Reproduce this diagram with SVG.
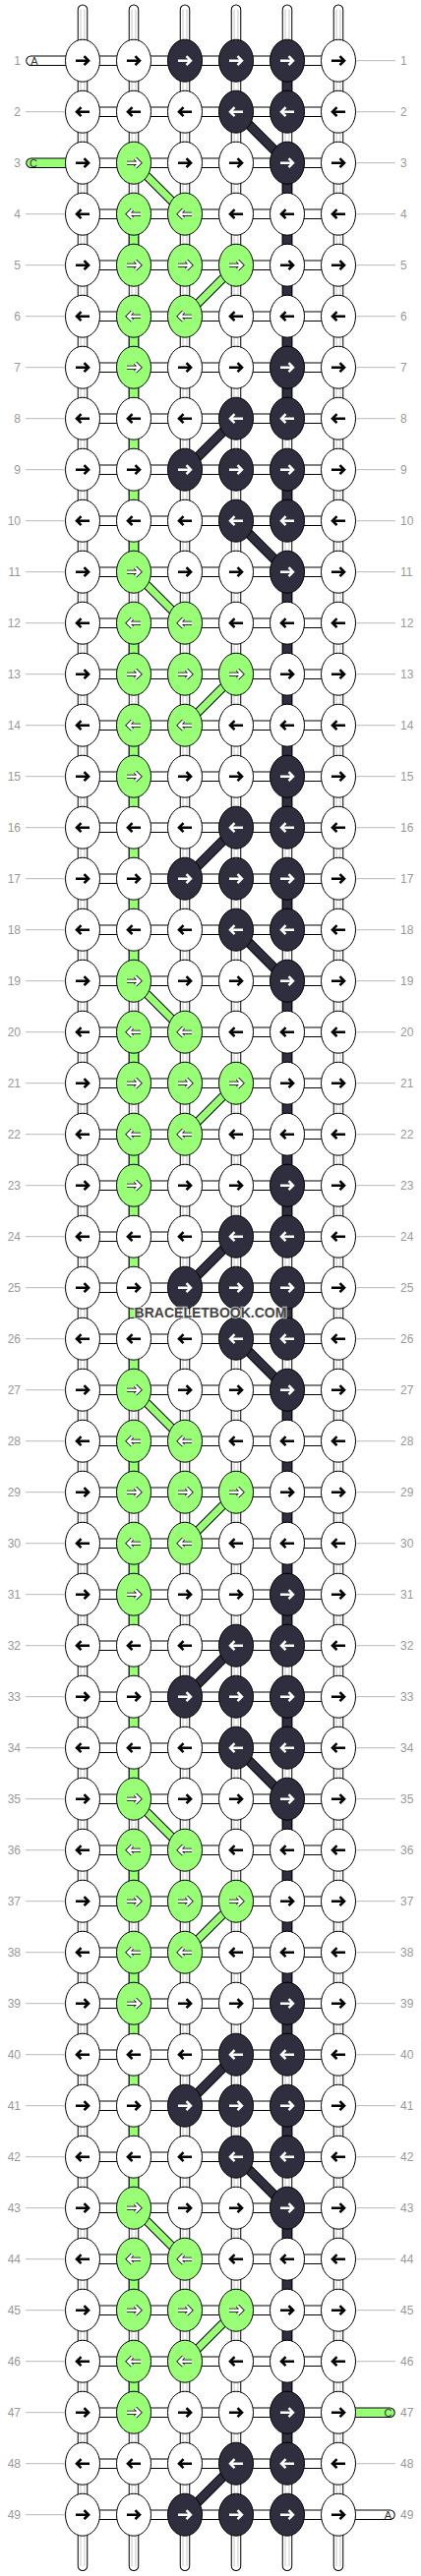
<svg xmlns="http://www.w3.org/2000/svg" xmlns:xlink="http://www.w3.org/1999/xlink" width="428" height="2620" viewBox="0 0 428 2620">
<style>
.t1{fill:none;stroke:#000;stroke-width:10.5;stroke-linecap:round}
.t2{fill:none;stroke:#fff;stroke-width:8.5;stroke-linecap:round}
.t3{fill:none;stroke:#c8c8c8;stroke-width:5}
.t4{fill:none;stroke:#fff;stroke-width:3}
.vb{fill:none;stroke:#000;stroke-width:10.5}
.vg{fill:none;stroke:#99ff77;stroke-width:8.5}
.vd{fill:none;stroke:#2e2e3e;stroke-width:8.5}
.dbg{fill:none;stroke:#000;stroke-width:9}
.dbd{fill:none;stroke:#000;stroke-width:10}
.dg{fill:none;stroke:#99ff77;stroke-width:7}
.dd{fill:none;stroke:#2e2e3e;stroke-width:8}
.hb{fill:none;stroke:#000;stroke-width:10.5}
.hw{fill:none;stroke:#fff;stroke-width:8.5}
.tb{fill:none;stroke:#000;stroke-width:10.5;stroke-linecap:round}
.tw{fill:none;stroke:#fff;stroke-width:8.5;stroke-linecap:round}
.tg{fill:none;stroke:#99ff77;stroke-width:8.5;stroke-linecap:round}
.gl{fill:none;stroke:#bbb;stroke-width:1}
.ew{fill:#fff;stroke:#000;stroke-width:1}
.ed{fill:#2e2e3e;stroke:#000;stroke-width:1}
.eg{fill:#99ff77;stroke:#000;stroke-width:1}
.ak{fill:none;stroke:#000;stroke-width:2.6}
.ao{fill:none;stroke:#000;stroke-width:4}
.aw{fill:none;stroke:#fff;stroke-width:2.4}
.nl{font-family:"Liberation Sans",Arial,sans-serif;font-size:12px;fill:#999}
.tl{font-family:"Liberation Sans",Arial,sans-serif;font-size:11px;fill:#333;text-anchor:middle}
.wm{font-family:"Liberation Sans",Arial,sans-serif;font-size:14px;font-weight:bold;fill:#444;text-anchor:middle;stroke:#fff;stroke-opacity:0.6;stroke-width:2.5;paint-order:stroke}
</style>
<defs>
<path id="vt" d="M84,0V2600M136,0V2600M188,0V2600M240,0V2600M292,0V2600M344,0V2600"/>
<path id="vgp" d="M136,208V260M136,312V572M136,624V676M136,728V988M136,1040V1092M136,1144V1404M136,1456V1508M136,1560V1820M136,1872V1924M136,1976V2236M136,2288V2340M136,2392V2444"/>
<path id="vdp" d="M292,52V104M292,156V416M292,468V520M292,572V832M292,884V936M292,988V1248M292,1300V1352M292,1404V1664M292,1716V1768M292,1820V2080M292,2132V2184M292,2236V2496"/>
<path id="dgp" d="M136,156L188,208M136,572L188,624M136,988L188,1040M136,1404L188,1456M136,1820L188,1872M136,2236L188,2288M240,260L188,312M240,676L188,728M240,1092L188,1144M240,1508L188,1560M240,1924L188,1976M240,2340L188,2392"/>
<path id="ddp" d="M240,104L292,156M240,520L292,572M240,936L292,988M240,1352L292,1404M240,1768L292,1820M240,2184L292,2236M240,416L188,468M240,832L188,884M240,1248L188,1300M240,1664L188,1716M240,2080L188,2132M240,2496L188,2548"/>
<path id="hp" d="M84,52H344M84,104H344M84,156H344M84,208H344M84,260H344M84,312H344M84,364H344M84,416H344M84,468H344M84,520H344M84,572H344M84,624H344M84,676H344M84,728H344M84,780H344M84,832H344M84,884H344M84,936H344M84,988H344M84,1040H344M84,1092H344M84,1144H344M84,1196H344M84,1248H344M84,1300H344M84,1352H344M84,1404H344M84,1456H344M84,1508H344M84,1560H344M84,1612H344M84,1664H344M84,1716H344M84,1768H344M84,1820H344M84,1872H344M84,1924H344M84,1976H344M84,2028H344M84,2080H344M84,2132H344M84,2184H344M84,2236H344M84,2288H344M84,2340H344M84,2392H344M84,2444H344M84,2496H344M84,2548H344"/>
<path id="pR" d="M-7,0H5M1.5,-4.5L6,0L1.5,4.5"/>
<path id="pL" d="M7,0H-5M-1.5,-4.5L-6,0L-1.5,4.5"/>
<g id="wR"><ellipse class="ew" rx="17.5" ry="21.5"/><use href="#pR" class="ak"/></g>
<g id="wL"><ellipse class="ew" rx="17.5" ry="21.5"/><use href="#pL" class="ak"/></g>
<g id="dR"><ellipse class="ed" rx="17.5" ry="21.5"/><use href="#pR" class="aw"/></g>
<g id="dL"><ellipse class="ed" rx="17.5" ry="21.5"/><use href="#pL" class="aw"/></g>
<g id="gR"><ellipse class="eg" rx="17.5" ry="21.5"/><use href="#pR" class="ao"/><use href="#pR" class="aw"/></g>
<g id="gL"><ellipse class="eg" rx="17.5" ry="21.5"/><use href="#pL" class="ao"/><use href="#pL" class="aw"/></g>
</defs>
<rect width="428" height="2620" fill="#fff"/>
<g transform="translate(0,9.7)">
<g id="connectors">
<use href="#vt" class="t1"/><use href="#vt" class="t2"/><use href="#vt" class="t3"/><use href="#vt" class="t4"/>
<use href="#vgp" class="vb"/><use href="#vgp" class="vg"/>
<use href="#vdp" class="vb"/><use href="#vdp" class="vd"/>
<use href="#hp" class="hb"/><use href="#hp" class="hw"/>
<path class="tb" d="M31.5,52H84M31.5,156H84M344,2444H396.5M344,2548H396.5"/>
<path class="tw" d="M31.5,52H84M344,2548H396.5"/>
<path class="tg" d="M31.5,156H84M344,2444H396.5"/>
<use href="#dgp" class="dbg"/><use href="#dgp" class="dg"/>
<use href="#ddp" class="dbd"/><use href="#ddp" class="dd"/>
<path class="gl" d="M26,104H70M26,208H70M26,260H70M26,312H70M26,364H70M26,416H70M26,468H70M26,520H70M26,572H70M26,624H70M26,676H70M26,728H70M26,780H70M26,832H70M26,884H70M26,936H70M26,988H70M26,1040H70M26,1092H70M26,1144H70M26,1196H70M26,1248H70M26,1300H70M26,1352H70M26,1404H70M26,1456H70M26,1508H70M26,1560H70M26,1612H70M26,1664H70M26,1716H70M26,1768H70M26,1820H70M26,1872H70M26,1924H70M26,1976H70M26,2028H70M26,2080H70M26,2132H70M26,2184H70M26,2236H70M26,2288H70M26,2340H70M26,2392H70M26,2444H70M26,2496H70M26,2548H70"/>
<path class="gl" d="M358,52H402M358,104H402M358,156H402M358,208H402M358,260H402M358,312H402M358,364H402M358,416H402M358,468H402M358,520H402M358,572H402M358,624H402M358,676H402M358,728H402M358,780H402M358,832H402M358,884H402M358,936H402M358,988H402M358,1040H402M358,1092H402M358,1144H402M358,1196H402M358,1248H402M358,1300H402M358,1352H402M358,1404H402M358,1456H402M358,1508H402M358,1560H402M358,1612H402M358,1664H402M358,1716H402M358,1768H402M358,1820H402M358,1872H402M358,1924H402M358,1976H402M358,2028H402M358,2080H402M358,2132H402M358,2184H402M358,2236H402M358,2288H402M358,2340H402M358,2392H402M358,2496H402"/>
</g>
<g id="nodes">
<g id="n1-1"><use href="#wR" x="84" y="52"/></g><g id="n1-2"><use href="#wR" x="136" y="52"/></g><g id="n1-3"><use href="#dR" x="188" y="52"/></g><g id="n1-4"><use href="#dR" x="240" y="52"/></g><g id="n1-5"><use href="#dR" x="292" y="52"/></g><g id="n1-6"><use href="#wR" x="344" y="52"/></g>
<g id="n2-1"><use href="#wL" x="84" y="104"/></g><g id="n2-2"><use href="#wL" x="136" y="104"/></g><g id="n2-3"><use href="#wL" x="188" y="104"/></g><g id="n2-4"><use href="#dL" x="240" y="104"/></g><g id="n2-5"><use href="#dL" x="292" y="104"/></g><g id="n2-6"><use href="#wL" x="344" y="104"/></g>
<g id="n3-1"><use href="#wR" x="84" y="156"/></g><g id="n3-2"><use href="#gR" x="136" y="156"/></g><g id="n3-3"><use href="#wR" x="188" y="156"/></g><g id="n3-4"><use href="#wR" x="240" y="156"/></g><g id="n3-5"><use href="#dR" x="292" y="156"/></g><g id="n3-6"><use href="#wR" x="344" y="156"/></g>
<g id="n4-1"><use href="#wL" x="84" y="208"/></g><g id="n4-2"><use href="#gL" x="136" y="208"/></g><g id="n4-3"><use href="#gL" x="188" y="208"/></g><g id="n4-4"><use href="#wL" x="240" y="208"/></g><g id="n4-5"><use href="#wL" x="292" y="208"/></g><g id="n4-6"><use href="#wL" x="344" y="208"/></g>
<g id="n5-1"><use href="#wR" x="84" y="260"/></g><g id="n5-2"><use href="#gR" x="136" y="260"/></g><g id="n5-3"><use href="#gR" x="188" y="260"/></g><g id="n5-4"><use href="#gR" x="240" y="260"/></g><g id="n5-5"><use href="#wR" x="292" y="260"/></g><g id="n5-6"><use href="#wR" x="344" y="260"/></g>
<g id="n6-1"><use href="#wL" x="84" y="312"/></g><g id="n6-2"><use href="#gL" x="136" y="312"/></g><g id="n6-3"><use href="#gL" x="188" y="312"/></g><g id="n6-4"><use href="#wL" x="240" y="312"/></g><g id="n6-5"><use href="#wL" x="292" y="312"/></g><g id="n6-6"><use href="#wL" x="344" y="312"/></g>
<g id="n7-1"><use href="#wR" x="84" y="364"/></g><g id="n7-2"><use href="#gR" x="136" y="364"/></g><g id="n7-3"><use href="#wR" x="188" y="364"/></g><g id="n7-4"><use href="#wR" x="240" y="364"/></g><g id="n7-5"><use href="#dR" x="292" y="364"/></g><g id="n7-6"><use href="#wR" x="344" y="364"/></g>
<g id="n8-1"><use href="#wL" x="84" y="416"/></g><g id="n8-2"><use href="#wL" x="136" y="416"/></g><g id="n8-3"><use href="#wL" x="188" y="416"/></g><g id="n8-4"><use href="#dL" x="240" y="416"/></g><g id="n8-5"><use href="#dL" x="292" y="416"/></g><g id="n8-6"><use href="#wL" x="344" y="416"/></g>
<g id="n9-1"><use href="#wR" x="84" y="468"/></g><g id="n9-2"><use href="#wR" x="136" y="468"/></g><g id="n9-3"><use href="#dR" x="188" y="468"/></g><g id="n9-4"><use href="#dR" x="240" y="468"/></g><g id="n9-5"><use href="#dR" x="292" y="468"/></g><g id="n9-6"><use href="#wR" x="344" y="468"/></g>
<g id="n10-1"><use href="#wL" x="84" y="520"/></g><g id="n10-2"><use href="#wL" x="136" y="520"/></g><g id="n10-3"><use href="#wL" x="188" y="520"/></g><g id="n10-4"><use href="#dL" x="240" y="520"/></g><g id="n10-5"><use href="#dL" x="292" y="520"/></g><g id="n10-6"><use href="#wL" x="344" y="520"/></g>
<g id="n11-1"><use href="#wR" x="84" y="572"/></g><g id="n11-2"><use href="#gR" x="136" y="572"/></g><g id="n11-3"><use href="#wR" x="188" y="572"/></g><g id="n11-4"><use href="#wR" x="240" y="572"/></g><g id="n11-5"><use href="#dR" x="292" y="572"/></g><g id="n11-6"><use href="#wR" x="344" y="572"/></g>
<g id="n12-1"><use href="#wL" x="84" y="624"/></g><g id="n12-2"><use href="#gL" x="136" y="624"/></g><g id="n12-3"><use href="#gL" x="188" y="624"/></g><g id="n12-4"><use href="#wL" x="240" y="624"/></g><g id="n12-5"><use href="#wL" x="292" y="624"/></g><g id="n12-6"><use href="#wL" x="344" y="624"/></g>
<g id="n13-1"><use href="#wR" x="84" y="676"/></g><g id="n13-2"><use href="#gR" x="136" y="676"/></g><g id="n13-3"><use href="#gR" x="188" y="676"/></g><g id="n13-4"><use href="#gR" x="240" y="676"/></g><g id="n13-5"><use href="#wR" x="292" y="676"/></g><g id="n13-6"><use href="#wR" x="344" y="676"/></g>
<g id="n14-1"><use href="#wL" x="84" y="728"/></g><g id="n14-2"><use href="#gL" x="136" y="728"/></g><g id="n14-3"><use href="#gL" x="188" y="728"/></g><g id="n14-4"><use href="#wL" x="240" y="728"/></g><g id="n14-5"><use href="#wL" x="292" y="728"/></g><g id="n14-6"><use href="#wL" x="344" y="728"/></g>
<g id="n15-1"><use href="#wR" x="84" y="780"/></g><g id="n15-2"><use href="#gR" x="136" y="780"/></g><g id="n15-3"><use href="#wR" x="188" y="780"/></g><g id="n15-4"><use href="#wR" x="240" y="780"/></g><g id="n15-5"><use href="#dR" x="292" y="780"/></g><g id="n15-6"><use href="#wR" x="344" y="780"/></g>
<g id="n16-1"><use href="#wL" x="84" y="832"/></g><g id="n16-2"><use href="#wL" x="136" y="832"/></g><g id="n16-3"><use href="#wL" x="188" y="832"/></g><g id="n16-4"><use href="#dL" x="240" y="832"/></g><g id="n16-5"><use href="#dL" x="292" y="832"/></g><g id="n16-6"><use href="#wL" x="344" y="832"/></g>
<g id="n17-1"><use href="#wR" x="84" y="884"/></g><g id="n17-2"><use href="#wR" x="136" y="884"/></g><g id="n17-3"><use href="#dR" x="188" y="884"/></g><g id="n17-4"><use href="#dR" x="240" y="884"/></g><g id="n17-5"><use href="#dR" x="292" y="884"/></g><g id="n17-6"><use href="#wR" x="344" y="884"/></g>
<g id="n18-1"><use href="#wL" x="84" y="936"/></g><g id="n18-2"><use href="#wL" x="136" y="936"/></g><g id="n18-3"><use href="#wL" x="188" y="936"/></g><g id="n18-4"><use href="#dL" x="240" y="936"/></g><g id="n18-5"><use href="#dL" x="292" y="936"/></g><g id="n18-6"><use href="#wL" x="344" y="936"/></g>
<g id="n19-1"><use href="#wR" x="84" y="988"/></g><g id="n19-2"><use href="#gR" x="136" y="988"/></g><g id="n19-3"><use href="#wR" x="188" y="988"/></g><g id="n19-4"><use href="#wR" x="240" y="988"/></g><g id="n19-5"><use href="#dR" x="292" y="988"/></g><g id="n19-6"><use href="#wR" x="344" y="988"/></g>
<g id="n20-1"><use href="#wL" x="84" y="1040"/></g><g id="n20-2"><use href="#gL" x="136" y="1040"/></g><g id="n20-3"><use href="#gL" x="188" y="1040"/></g><g id="n20-4"><use href="#wL" x="240" y="1040"/></g><g id="n20-5"><use href="#wL" x="292" y="1040"/></g><g id="n20-6"><use href="#wL" x="344" y="1040"/></g>
<g id="n21-1"><use href="#wR" x="84" y="1092"/></g><g id="n21-2"><use href="#gR" x="136" y="1092"/></g><g id="n21-3"><use href="#gR" x="188" y="1092"/></g><g id="n21-4"><use href="#gR" x="240" y="1092"/></g><g id="n21-5"><use href="#wR" x="292" y="1092"/></g><g id="n21-6"><use href="#wR" x="344" y="1092"/></g>
<g id="n22-1"><use href="#wL" x="84" y="1144"/></g><g id="n22-2"><use href="#gL" x="136" y="1144"/></g><g id="n22-3"><use href="#gL" x="188" y="1144"/></g><g id="n22-4"><use href="#wL" x="240" y="1144"/></g><g id="n22-5"><use href="#wL" x="292" y="1144"/></g><g id="n22-6"><use href="#wL" x="344" y="1144"/></g>
<g id="n23-1"><use href="#wR" x="84" y="1196"/></g><g id="n23-2"><use href="#gR" x="136" y="1196"/></g><g id="n23-3"><use href="#wR" x="188" y="1196"/></g><g id="n23-4"><use href="#wR" x="240" y="1196"/></g><g id="n23-5"><use href="#dR" x="292" y="1196"/></g><g id="n23-6"><use href="#wR" x="344" y="1196"/></g>
<g id="n24-1"><use href="#wL" x="84" y="1248"/></g><g id="n24-2"><use href="#wL" x="136" y="1248"/></g><g id="n24-3"><use href="#wL" x="188" y="1248"/></g><g id="n24-4"><use href="#dL" x="240" y="1248"/></g><g id="n24-5"><use href="#dL" x="292" y="1248"/></g><g id="n24-6"><use href="#wL" x="344" y="1248"/></g>
<g id="n25-1"><use href="#wR" x="84" y="1300"/></g><g id="n25-2"><use href="#wR" x="136" y="1300"/></g><g id="n25-3"><use href="#dR" x="188" y="1300"/></g><g id="n25-4"><use href="#dR" x="240" y="1300"/></g><g id="n25-5"><use href="#dR" x="292" y="1300"/></g><g id="n25-6"><use href="#wR" x="344" y="1300"/></g>
<g id="n26-1"><use href="#wL" x="84" y="1352"/></g><g id="n26-2"><use href="#wL" x="136" y="1352"/></g><g id="n26-3"><use href="#wL" x="188" y="1352"/></g><g id="n26-4"><use href="#dL" x="240" y="1352"/></g><g id="n26-5"><use href="#dL" x="292" y="1352"/></g><g id="n26-6"><use href="#wL" x="344" y="1352"/></g>
<g id="n27-1"><use href="#wR" x="84" y="1404"/></g><g id="n27-2"><use href="#gR" x="136" y="1404"/></g><g id="n27-3"><use href="#wR" x="188" y="1404"/></g><g id="n27-4"><use href="#wR" x="240" y="1404"/></g><g id="n27-5"><use href="#dR" x="292" y="1404"/></g><g id="n27-6"><use href="#wR" x="344" y="1404"/></g>
<g id="n28-1"><use href="#wL" x="84" y="1456"/></g><g id="n28-2"><use href="#gL" x="136" y="1456"/></g><g id="n28-3"><use href="#gL" x="188" y="1456"/></g><g id="n28-4"><use href="#wL" x="240" y="1456"/></g><g id="n28-5"><use href="#wL" x="292" y="1456"/></g><g id="n28-6"><use href="#wL" x="344" y="1456"/></g>
<g id="n29-1"><use href="#wR" x="84" y="1508"/></g><g id="n29-2"><use href="#gR" x="136" y="1508"/></g><g id="n29-3"><use href="#gR" x="188" y="1508"/></g><g id="n29-4"><use href="#gR" x="240" y="1508"/></g><g id="n29-5"><use href="#wR" x="292" y="1508"/></g><g id="n29-6"><use href="#wR" x="344" y="1508"/></g>
<g id="n30-1"><use href="#wL" x="84" y="1560"/></g><g id="n30-2"><use href="#gL" x="136" y="1560"/></g><g id="n30-3"><use href="#gL" x="188" y="1560"/></g><g id="n30-4"><use href="#wL" x="240" y="1560"/></g><g id="n30-5"><use href="#wL" x="292" y="1560"/></g><g id="n30-6"><use href="#wL" x="344" y="1560"/></g>
<g id="n31-1"><use href="#wR" x="84" y="1612"/></g><g id="n31-2"><use href="#gR" x="136" y="1612"/></g><g id="n31-3"><use href="#wR" x="188" y="1612"/></g><g id="n31-4"><use href="#wR" x="240" y="1612"/></g><g id="n31-5"><use href="#dR" x="292" y="1612"/></g><g id="n31-6"><use href="#wR" x="344" y="1612"/></g>
<g id="n32-1"><use href="#wL" x="84" y="1664"/></g><g id="n32-2"><use href="#wL" x="136" y="1664"/></g><g id="n32-3"><use href="#wL" x="188" y="1664"/></g><g id="n32-4"><use href="#dL" x="240" y="1664"/></g><g id="n32-5"><use href="#dL" x="292" y="1664"/></g><g id="n32-6"><use href="#wL" x="344" y="1664"/></g>
<g id="n33-1"><use href="#wR" x="84" y="1716"/></g><g id="n33-2"><use href="#wR" x="136" y="1716"/></g><g id="n33-3"><use href="#dR" x="188" y="1716"/></g><g id="n33-4"><use href="#dR" x="240" y="1716"/></g><g id="n33-5"><use href="#dR" x="292" y="1716"/></g><g id="n33-6"><use href="#wR" x="344" y="1716"/></g>
<g id="n34-1"><use href="#wL" x="84" y="1768"/></g><g id="n34-2"><use href="#wL" x="136" y="1768"/></g><g id="n34-3"><use href="#wL" x="188" y="1768"/></g><g id="n34-4"><use href="#dL" x="240" y="1768"/></g><g id="n34-5"><use href="#dL" x="292" y="1768"/></g><g id="n34-6"><use href="#wL" x="344" y="1768"/></g>
<g id="n35-1"><use href="#wR" x="84" y="1820"/></g><g id="n35-2"><use href="#gR" x="136" y="1820"/></g><g id="n35-3"><use href="#wR" x="188" y="1820"/></g><g id="n35-4"><use href="#wR" x="240" y="1820"/></g><g id="n35-5"><use href="#dR" x="292" y="1820"/></g><g id="n35-6"><use href="#wR" x="344" y="1820"/></g>
<g id="n36-1"><use href="#wL" x="84" y="1872"/></g><g id="n36-2"><use href="#gL" x="136" y="1872"/></g><g id="n36-3"><use href="#gL" x="188" y="1872"/></g><g id="n36-4"><use href="#wL" x="240" y="1872"/></g><g id="n36-5"><use href="#wL" x="292" y="1872"/></g><g id="n36-6"><use href="#wL" x="344" y="1872"/></g>
<g id="n37-1"><use href="#wR" x="84" y="1924"/></g><g id="n37-2"><use href="#gR" x="136" y="1924"/></g><g id="n37-3"><use href="#gR" x="188" y="1924"/></g><g id="n37-4"><use href="#gR" x="240" y="1924"/></g><g id="n37-5"><use href="#wR" x="292" y="1924"/></g><g id="n37-6"><use href="#wR" x="344" y="1924"/></g>
<g id="n38-1"><use href="#wL" x="84" y="1976"/></g><g id="n38-2"><use href="#gL" x="136" y="1976"/></g><g id="n38-3"><use href="#gL" x="188" y="1976"/></g><g id="n38-4"><use href="#wL" x="240" y="1976"/></g><g id="n38-5"><use href="#wL" x="292" y="1976"/></g><g id="n38-6"><use href="#wL" x="344" y="1976"/></g>
<g id="n39-1"><use href="#wR" x="84" y="2028"/></g><g id="n39-2"><use href="#gR" x="136" y="2028"/></g><g id="n39-3"><use href="#wR" x="188" y="2028"/></g><g id="n39-4"><use href="#wR" x="240" y="2028"/></g><g id="n39-5"><use href="#dR" x="292" y="2028"/></g><g id="n39-6"><use href="#wR" x="344" y="2028"/></g>
<g id="n40-1"><use href="#wL" x="84" y="2080"/></g><g id="n40-2"><use href="#wL" x="136" y="2080"/></g><g id="n40-3"><use href="#wL" x="188" y="2080"/></g><g id="n40-4"><use href="#dL" x="240" y="2080"/></g><g id="n40-5"><use href="#dL" x="292" y="2080"/></g><g id="n40-6"><use href="#wL" x="344" y="2080"/></g>
<g id="n41-1"><use href="#wR" x="84" y="2132"/></g><g id="n41-2"><use href="#wR" x="136" y="2132"/></g><g id="n41-3"><use href="#dR" x="188" y="2132"/></g><g id="n41-4"><use href="#dR" x="240" y="2132"/></g><g id="n41-5"><use href="#dR" x="292" y="2132"/></g><g id="n41-6"><use href="#wR" x="344" y="2132"/></g>
<g id="n42-1"><use href="#wL" x="84" y="2184"/></g><g id="n42-2"><use href="#wL" x="136" y="2184"/></g><g id="n42-3"><use href="#wL" x="188" y="2184"/></g><g id="n42-4"><use href="#dL" x="240" y="2184"/></g><g id="n42-5"><use href="#dL" x="292" y="2184"/></g><g id="n42-6"><use href="#wL" x="344" y="2184"/></g>
<g id="n43-1"><use href="#wR" x="84" y="2236"/></g><g id="n43-2"><use href="#gR" x="136" y="2236"/></g><g id="n43-3"><use href="#wR" x="188" y="2236"/></g><g id="n43-4"><use href="#wR" x="240" y="2236"/></g><g id="n43-5"><use href="#dR" x="292" y="2236"/></g><g id="n43-6"><use href="#wR" x="344" y="2236"/></g>
<g id="n44-1"><use href="#wL" x="84" y="2288"/></g><g id="n44-2"><use href="#gL" x="136" y="2288"/></g><g id="n44-3"><use href="#gL" x="188" y="2288"/></g><g id="n44-4"><use href="#wL" x="240" y="2288"/></g><g id="n44-5"><use href="#wL" x="292" y="2288"/></g><g id="n44-6"><use href="#wL" x="344" y="2288"/></g>
<g id="n45-1"><use href="#wR" x="84" y="2340"/></g><g id="n45-2"><use href="#gR" x="136" y="2340"/></g><g id="n45-3"><use href="#gR" x="188" y="2340"/></g><g id="n45-4"><use href="#gR" x="240" y="2340"/></g><g id="n45-5"><use href="#wR" x="292" y="2340"/></g><g id="n45-6"><use href="#wR" x="344" y="2340"/></g>
<g id="n46-1"><use href="#wL" x="84" y="2392"/></g><g id="n46-2"><use href="#gL" x="136" y="2392"/></g><g id="n46-3"><use href="#gL" x="188" y="2392"/></g><g id="n46-4"><use href="#wL" x="240" y="2392"/></g><g id="n46-5"><use href="#wL" x="292" y="2392"/></g><g id="n46-6"><use href="#wL" x="344" y="2392"/></g>
<g id="n47-1"><use href="#wR" x="84" y="2444"/></g><g id="n47-2"><use href="#gR" x="136" y="2444"/></g><g id="n47-3"><use href="#wR" x="188" y="2444"/></g><g id="n47-4"><use href="#wR" x="240" y="2444"/></g><g id="n47-5"><use href="#dR" x="292" y="2444"/></g><g id="n47-6"><use href="#wR" x="344" y="2444"/></g>
<g id="n48-1"><use href="#wL" x="84" y="2496"/></g><g id="n48-2"><use href="#wL" x="136" y="2496"/></g><g id="n48-3"><use href="#wL" x="188" y="2496"/></g><g id="n48-4"><use href="#dL" x="240" y="2496"/></g><g id="n48-5"><use href="#dL" x="292" y="2496"/></g><g id="n48-6"><use href="#wL" x="344" y="2496"/></g>
<g id="n49-1"><use href="#wR" x="84" y="2548"/></g><g id="n49-2"><use href="#wR" x="136" y="2548"/></g><g id="n49-3"><use href="#dR" x="188" y="2548"/></g><g id="n49-4"><use href="#dR" x="240" y="2548"/></g><g id="n49-5"><use href="#dR" x="292" y="2548"/></g><g id="n49-6"><use href="#wR" x="344" y="2548"/></g>
</g>
<g id="tails">
<text class="tl" x="35" y="56">A</text>
<text class="tl" x="34" y="160">C</text>
<text class="tl" x="394.5" y="2448">C</text>
<text class="tl" x="394.5" y="2552">A</text>
</g>
<g id="row-labels-left" class="nl" text-anchor="end">
<text x="21" y="56.3">1</text><text x="21" y="108.3">2</text><text x="21" y="160.3">3</text><text x="21" y="212.3">4</text><text x="21" y="264.3">5</text><text x="21" y="316.3">6</text><text x="21" y="368.3">7</text><text x="21" y="420.3">8</text><text x="21" y="472.3">9</text><text x="21" y="524.3">10</text>
<text x="21" y="576.3">11</text><text x="21" y="628.3">12</text><text x="21" y="680.3">13</text><text x="21" y="732.3">14</text><text x="21" y="784.3">15</text><text x="21" y="836.3">16</text><text x="21" y="888.3">17</text><text x="21" y="940.3">18</text><text x="21" y="992.3">19</text><text x="21" y="1044.3">20</text>
<text x="21" y="1096.3">21</text><text x="21" y="1148.3">22</text><text x="21" y="1200.3">23</text><text x="21" y="1252.3">24</text><text x="21" y="1304.3">25</text><text x="21" y="1356.3">26</text><text x="21" y="1408.3">27</text><text x="21" y="1460.3">28</text><text x="21" y="1512.3">29</text><text x="21" y="1564.3">30</text>
<text x="21" y="1616.3">31</text><text x="21" y="1668.3">32</text><text x="21" y="1720.3">33</text><text x="21" y="1772.3">34</text><text x="21" y="1824.3">35</text><text x="21" y="1876.3">36</text><text x="21" y="1928.3">37</text><text x="21" y="1980.3">38</text><text x="21" y="2032.3">39</text><text x="21" y="2084.3">40</text>
<text x="21" y="2136.3">41</text><text x="21" y="2188.3">42</text><text x="21" y="2240.3">43</text><text x="21" y="2292.3">44</text><text x="21" y="2344.3">45</text><text x="21" y="2396.3">46</text><text x="21" y="2448.3">47</text><text x="21" y="2500.3">48</text><text x="21" y="2552.3">49</text>
</g>
<g id="row-labels-right" class="nl" text-anchor="start">
<text x="407" y="56.3">1</text><text x="407" y="108.3">2</text><text x="407" y="160.3">3</text><text x="407" y="212.3">4</text><text x="407" y="264.3">5</text><text x="407" y="316.3">6</text><text x="407" y="368.3">7</text><text x="407" y="420.3">8</text><text x="407" y="472.3">9</text><text x="407" y="524.3">10</text>
<text x="407" y="576.3">11</text><text x="407" y="628.3">12</text><text x="407" y="680.3">13</text><text x="407" y="732.3">14</text><text x="407" y="784.3">15</text><text x="407" y="836.3">16</text><text x="407" y="888.3">17</text><text x="407" y="940.3">18</text><text x="407" y="992.3">19</text><text x="407" y="1044.3">20</text>
<text x="407" y="1096.3">21</text><text x="407" y="1148.3">22</text><text x="407" y="1200.3">23</text><text x="407" y="1252.3">24</text><text x="407" y="1304.3">25</text><text x="407" y="1356.3">26</text><text x="407" y="1408.3">27</text><text x="407" y="1460.3">28</text><text x="407" y="1512.3">29</text><text x="407" y="1564.3">30</text>
<text x="407" y="1616.3">31</text><text x="407" y="1668.3">32</text><text x="407" y="1720.3">33</text><text x="407" y="1772.3">34</text><text x="407" y="1824.3">35</text><text x="407" y="1876.3">36</text><text x="407" y="1928.3">37</text><text x="407" y="1980.3">38</text><text x="407" y="2032.3">39</text><text x="407" y="2084.3">40</text>
<text x="407" y="2136.3">41</text><text x="407" y="2188.3">42</text><text x="407" y="2240.3">43</text><text x="407" y="2292.3">44</text><text x="407" y="2344.3">45</text><text x="407" y="2396.3">46</text><text x="407" y="2448.3">47</text><text x="407" y="2500.3">48</text><text x="407" y="2552.3">49</text>
</g>
<text id="watermark" class="wm" x="214" y="1330.3">BRACELETBOOK.COM</text>
</g>
</svg>
